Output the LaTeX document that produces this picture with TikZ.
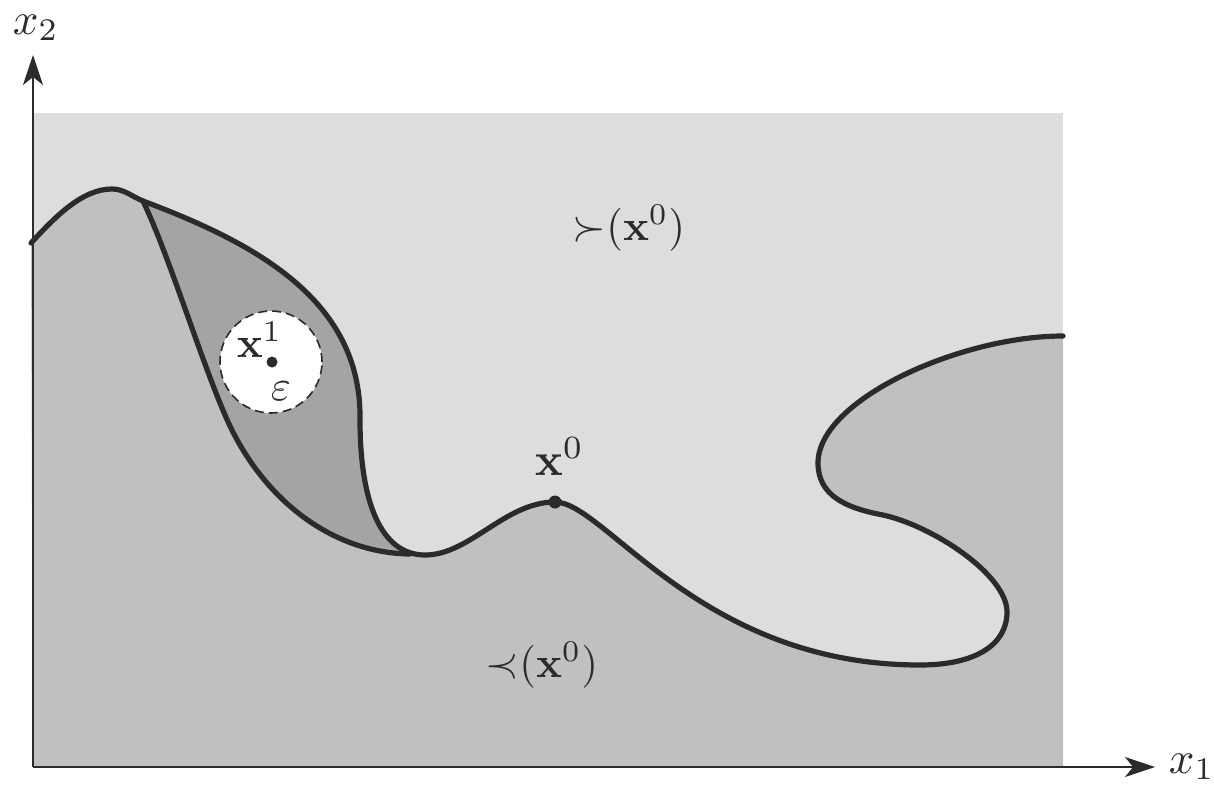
\documentclass[tikz,border=0pt]{standalone}
\usetikzlibrary{arrows.meta}
\definecolor{lightreg}{HTML}{DCDDDF}
\definecolor{midreg}{HTML}{BEC0C2}
\definecolor{lensreg}{HTML}{A3A4A6}
\definecolor{ink}{HTML}{2B2B2B}
\tikzset{
  axisline/.style={draw=ink, line width=1.4pt, -{Stealth[length=30pt,width=20pt,inset=8pt]}},
  bcurve/.style={draw=ink, line width=5.2pt, line join=round, line cap=round},
  lbl/.style={inner sep=0pt, anchor=base west, text=ink, scale=4.3},
  axlbl/.style={inner sep=0pt, anchor=base west, text=ink, scale=4.5},
  ptdot/.style={fill=ink, draw=none},
  ball/.style={fill=white, draw=ink, line width=1.6pt, dash pattern=on 9pt off 5pt}
}
\begin{document}
\begin{tikzpicture}[x=1pt,y=-1pt]
\useasboundingbox (0,0) rectangle (1214,787);
% key points of the boundary
\coordinate (c0) at (31,243);
\coordinate (cpeak) at (112,189);
\coordinate (cjoin) at (143,201);
\coordinate (cvert) at (360,420);
\coordinate (cbot) at (425,555);
\coordinate (x0pt) at (555,502);
\coordinate (clow) at (920,665);
\coordinate (cright) at (1007,612);
\coordinate (cinfl) at (883,515);
\coordinate (cleft) at (818,463);
\coordinate (cend) at (1063,336);
\coordinate (bmid) at (225,415);
\coordinate (bend) at (410,554);
% regions
\fill[lightreg] (33,113) rectangle (1063,767);
\fill[midreg] (33,767) -- (c0)
  .. controls (55,217) and (82,189) .. (cpeak)
  .. controls (124,189) and (131,196) .. (cjoin)
  .. controls (255,243) and (362,300) .. (cvert)
  .. controls (360,500) and (380,555) .. (cbot)
  .. controls (470,555) and (505,502) .. (x0pt)
  .. controls (605,502) and (700,665) .. (clow)
  .. controls (975,665) and (1007,645) .. (cright)
  .. controls (1007,575) and (933,526) .. (cinfl)
  .. controls (845,508) and (818,495) .. (cleft)
  .. controls (818,400) and (960,336) .. (cend)
  -- (1063,767) -- cycle;
\fill[lensreg] (cjoin)
  .. controls (255,243) and (362,300) .. (cvert)
  .. controls (360,500) and (380,555) .. (cbot)
  -- (bend)
  .. controls (330,553) and (260,497) .. (bmid)
  .. controls (200,357) and (168,253) .. (cjoin) -- cycle;
% boundary curves
\draw[bcurve] (c0)
  .. controls (55,217) and (82,189) .. (cpeak)
  .. controls (124,189) and (131,196) .. (cjoin)
  .. controls (255,243) and (362,300) .. (cvert)
  .. controls (360,500) and (380,555) .. (cbot)
  .. controls (470,555) and (505,502) .. (x0pt)
  .. controls (605,502) and (700,665) .. (clow)
  .. controls (975,665) and (1007,645) .. (cright)
  .. controls (1007,575) and (933,526) .. (cinfl)
  .. controls (845,508) and (818,495) .. (cleft)
  .. controls (818,400) and (960,336) .. (cend);
\draw[bcurve] (cjoin)
  .. controls (168,253) and (200,357) .. (bmid)
  .. controls (260,497) and (330,553) .. (bend);
% epsilon ball
\node[ball, circle, minimum size=102pt, inner sep=0pt] (ballx1) at (271,362) {};
\coordinate (x1pt) at (272,362);
\fill[ptdot] (x1pt) circle (5.5pt);
\node[lbl] (x1lbl) at (236,357) {$\mathbf{x}^1$};
\node[lbl] (epslbl) at (270,400) {$\varepsilon$};
% x0
\fill[ptdot] (x0pt) circle (6.5pt);
\node[lbl, scale=1.08] (x0lbl) at (534,475) {$\mathbf{x}^0$};
% region labels
\node[lbl] (uplbl) at (572,240) {${\succ}(\mathbf{x}^0)$};
\node[lbl] (lowlbl) at (485,677) {${\prec}(\mathbf{x}^0)$};
% axes
\coordinate (orig) at (33,767);
\coordinate (ytip) at (33,55);
\coordinate (xtip) at (1155,767);
\draw[axisline] (orig) -- (ytip);
\draw[axisline] (orig) -- (xtip);
\node[axlbl] (x2lbl) at (12,34) {$x_2$};
\node[axlbl] (x1axlbl) at (1168,773) {$x_1$};
\end{tikzpicture}
\end{document}
